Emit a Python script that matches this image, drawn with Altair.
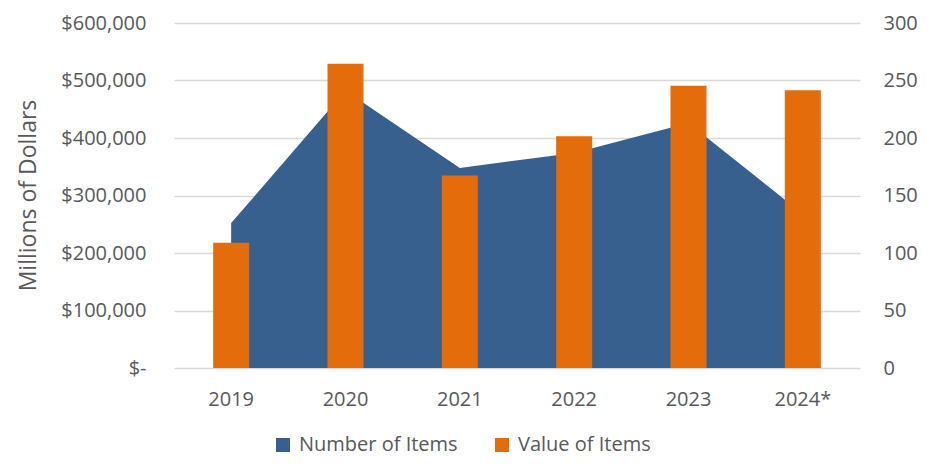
import altair as alt
import pandas as pd

years = ["2019", "2020", "2021", "2022", "2023", "2024*"]
value_of_items = [218000, 529000, 335000, 403000, 491000, 483000]
number_of_items = [126, 241, 174, 187, 213, 134]
series_names = ["Number of Items", "Value of Items"]
series_colors = ["#37608F", "#E46C0A"]
left_ticks = [0, 100000, 200000, 300000, 400000, 500000, 600000]
right_ticks = [0, 50, 100, 150, 200, 250, 300]

df = pd.DataFrame({"year": years, "value": value_of_items, "number": number_of_items})

FONT = "Open Sans"
TXT = "#595959"

xscale = alt.Scale(type="band", domain=years, paddingInner=0, paddingOuter=0)
xaxis = alt.Axis(title=None, labelAngle=0, ticks=False, domain=False, labelPadding=21,
                 labelFontSize=20, labelColor=TXT, labelFont=FONT, grid=False)


def color_enc():
    return alt.Color("s:N", scale=alt.Scale(domain=series_names, range=series_colors),
                     legend=alt.Legend(title=None, orient="none", direction="horizontal",
                                       legendX=99, legendY=412, symbolType="square",
                                       symbolSize=196, symbolStrokeWidth=0,
                                       labelFontSize=20, labelFont=FONT, labelColor=TXT,
                                       labelOffset=6, columnPadding=34, padding=0))


area = alt.Chart(df).mark_area(opacity=1).encode(
    x=alt.X("year:N", sort=years, scale=xscale, axis=xaxis, bandPosition=0.5),
    y=alt.Y("number:Q", scale=alt.Scale(domain=[0, 300], nice=False),
            axis=alt.Axis(orient="right", title=None, values=right_ticks, ticks=False,
                          domain=False, grid=False, labelPadding=23, labelFontSize=20,
                          labelColor=TXT, labelFont=FONT)),
    color=color_enc(),
).transform_calculate(s="'Number of Items'")

bars = alt.Chart(df).mark_bar(width={"band": 0.315}).encode(
    x=alt.X("year:N", sort=years, scale=xscale, axis=xaxis),
    y=alt.Y("value:Q", scale=alt.Scale(domain=[0, 600000], nice=False),
            axis=alt.Axis(orient="left", title="Millions of Dollars", values=left_ticks,
                          labelExpr="datum.value == 0 ? '$-\u00a0\u00a0' : '$' + format(datum.value, ',')",
                          ticks=False, domain=False, grid=True, gridColor="#D9D9D9",
                          gridWidth=1.5, labelPadding=28, labelFontSize=20,
                          labelColor=TXT, labelFont=FONT, titleFont=FONT,
                          titleFontSize=23, titleFontWeight="normal", titleColor=TXT,
                          titleX=-139, titleY=172, titleAngle=270, titleAlign="center",
                          titleBaseline="alphabetic")),
    color=color_enc(),
).transform_calculate(s="'Value of Items'")

chart = alt.layer(area, bars).resolve_scale(y="independent").properties(
    width=686, height=345,
    autosize=alt.AutoSizeParams(type="none"),
    padding={"left": 166, "top": 15, "right": 68, "bottom": 96},
    background="white",
).configure_view(stroke=None)

chart.save("out.html", embed_options={"renderer": "svg", "actions": False})
